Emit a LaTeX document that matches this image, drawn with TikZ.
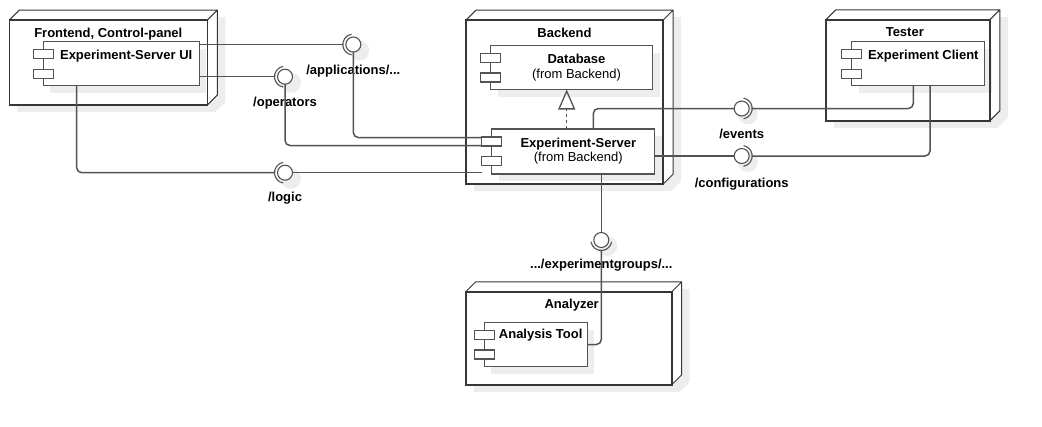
\documentclass[tikz,border=0pt]{standalone}
\usepackage{fontspec}
\setmainfont{Liberation Sans}
\usetikzlibrary{positioning, arrows.meta}

\pgfdeclarelayer{bg}
\pgfdeclarelayer{shade}
\pgfsetlayers{bg,shade,main}

\definecolor{linegray}{HTML}{535353}
\definecolor{framegray}{HTML}{363636}
\definecolor{shadowgray}{HTML}{EDEDED}

\tikzset{
    every node/.style={font=\fontsize{13}{14.5}\selectfont},
    devnode/.style={draw=framegray, line width=1.6pt, inner sep=0pt, outer sep=0pt},
    devedge/.style={draw=framegray, line width=1pt},
    comp/.style={draw=linegray, line width=1.2pt, fill=white, inner sep=0pt, outer sep=0pt},
    port/.style={draw=linegray, line width=1.1pt, fill=white, minimum width=20pt, minimum height=9pt, inner sep=0pt, outer sep=0pt},
    ntitle/.style={font=\fontsize{13}{14.5}\selectfont\bfseries, inner sep=0pt, anchor=north},
    ctitle/.style={font=\fontsize{13}{14.5}\selectfont\bfseries, align=center, inner sep=0pt, anchor=north},
    iface/.style={circle, draw=linegray, line width=1.1pt, fill=white, minimum size=15pt, inner sep=0pt, outer sep=0pt},
    iflabel/.style={font=\fontsize{13}{14.5}\selectfont\bfseries, inner sep=0pt},
    conn/.style={draw=linegray, line width=1.5pt, rounded corners=5pt},
    socket/.style={draw=linegray, line width=1.1pt},
    realize/.style={draw=linegray, line width=1.3pt, dash pattern=on 3pt off 3pt, -{Triangle[open, length=20pt, width=17pt]}}
}

\begin{document}
\begin{tikzpicture}[x=1pt, y=-1pt]
    \useasboundingbox (0,0) rectangle (1042,426);

    % deployment nodes
    \node[devnode, minimum width=198pt, minimum height=85pt] (front) at (108.3,62.5) {};
    \node[devnode, minimum width=197pt, minimum height=164pt] (back) at (564.5,102.2) {};
    \node[devnode, minimum width=164pt, minimum height=101pt] (tester) at (907.8,70.3) {};
    \node[devnode, minimum width=206pt, minimum height=93pt] (analyzer) at (568.7,338.3) {};

    \foreach \n in {front,back,tester,analyzer}
        \draw[devedge] (\n.north west) -- ++(10,-10) -| ([shift={(10,-10)}]\n.south east) -- (\n.south east)
            (\n.north east) -- ++(10,-10);

    \node[ntitle] (front-title) at ([shift={(0,7.5)}]front.north) {Frontend, Control-panel};
    \node[ntitle] (back-title) at ([shift={(0,7.5)}]back.north) {Backend};
    \node[ntitle] (tester-title) at ([shift={(-3,7.5)}]tester.north) {Tester};
    \node[ntitle] (analyzer-title) at ([shift={(3,7)}]analyzer.north) {Analyzer};

    % components
    \node[comp, minimum width=156pt, minimum height=44pt] (ui) at (121.2,63.8) {};
    \node[comp, minimum width=162pt, minimum height=44pt] (db) at (571.5,67.5) {};
    \node[comp, minimum width=163pt, minimum height=45pt] (srv) at (573.3,151.5) {};
    \node[comp, minimum width=133pt, minimum height=44pt] (client) at (918.3,63.8) {};
    \node[comp, minimum width=103pt, minimum height=44pt] (tool) at (535.7,344.5) {};

    \foreach \c in {ui,db,srv,client,tool} {
        \node[port] (\c-p1) at ([shift={(0,12.5)}]\c.north west) {};
        \node[port] (\c-p2) at ([shift={(0,32)}]\c.north west) {};
    }

    \node[ctitle] (ui-title) at ([shift={(5,8.5)}]ui.north) {Experiment-Server UI};
    \node[ctitle] (db-title) at ([shift={(5,8.5)}]db.north) {Database\\{\mdseries (from Backend)}};
    \node[ctitle] (srv-title) at ([shift={(5,8.5)}]srv.north) {Experiment-Server\\{\mdseries (from Backend)}};
    \node[ctitle] (client-title) at ([shift={(5,8.5)}]client.north) {Experiment Client};
    \node[ctitle] (tool-title) at ([shift={(5,6.5)}]tool.north) {Analysis Tool};

    % interfaces
    \node[iface] (apps) at (353.3,44.5) {};
    \node[iface] (ops) at (285,76.7) {};
    \node[iface] (logic) at (285,172.7) {};
    \node[iface] (events) at (741.7,108.5) {};
    \node[iface] (configs) at (741.7,156) {};
    \node[iface] (groups) at (601.3,240) {};

    \node[iflabel, below=13pt of apps] (apps-lbl) {/applications/...};
    \node[iflabel, below=13pt of ops] (ops-lbl) {/operators};
    \node[iflabel, below=12pt of logic] (logic-lbl) {/logic};
    \node[iflabel, below=13pt of events] (events-lbl) {/events};
    \node[iflabel, below=14pt of configs] (configs-lbl) {/configurations};
    \node[iflabel, below=11pt of groups] (groups-lbl) {.../experimentgroups/...};

    \foreach \i in {apps,ops,logic}
        \draw[socket] ([shift={(100:10.5pt)}]\i.center) arc[start angle=100, end angle=260, radius=10.5pt];
    \foreach \i in {events,configs}
        \draw[socket] ([shift={(-80:10.5pt)}]\i.center) arc[start angle=-80, end angle=80, radius=10.5pt];
    \draw[socket] ([shift={(190:10.5pt)}]groups.center) arc[start angle=190, end angle=350, radius=10.5pt];

    \coordinate (apps-s) at ([shift={(-10.5,0)}]apps.center);
    \coordinate (ops-s) at ([shift={(-10.5,0)}]ops.center);
    \coordinate (logic-s) at ([shift={(-10.5,0)}]logic.center);
    \coordinate (events-s) at ([shift={(10.5,0)}]events.center);
    \coordinate (configs-s) at ([shift={(10.5,0)}]configs.center);
    \coordinate (groups-s) at ([shift={(0,10.5)}]groups.center);

    % connectors
    \draw[conn] (ui.east |- apps) -- (apps-s);
    \draw[conn] (ui.east |- ops) -- (ops-s);
    \draw[conn] ([xshift=-44.5pt]ui.south) |- (logic-s);
    \draw[conn] (apps.south) |- ([yshift=-0.5pt]srv-p1.north west);
    \draw[conn] (ops.south) |- ([yshift=0.5pt]srv-p1.south west);
    \draw[conn] (logic.east) -- (logic.east -| srv-p2.west);
    \draw[conn] ([xshift=20pt]srv.north) |- (events.west);
    \draw[conn] (srv.east |- configs) -- (configs.west);
    \draw[conn] ([xshift=-5pt]client.south) |- (events-s);
    \draw[conn] ([xshift=11.7pt]client.south) |- (configs-s);
    \draw[conn] (groups.north |- srv.south) -- (groups.north);
    \draw[conn] (tool.east) -| (groups-s);
    \draw[realize] ([xshift=-6.6pt]srv.north) -- ([xshift=-6.6pt]srv.north |- db.south);

    % shadows
    \begin{pgfonlayer}{bg}
        \foreach \n in {front,back,tester,analyzer} {
            \fill[shadowgray] ([shift={(8,7)}]\n.north west) -- ++(10,-10) -| ([shift={(18,-3)}]\n.south east)
                -- ([shift={(8,7)}]\n.south east) -| ([shift={(8,7)}]\n.north west) -- cycle;
            \fill[white] (\n.north west) -- ++(10,-10) -| ([shift={(10,-10)}]\n.south east)
                -- (\n.south east) -| (\n.north west) -- cycle;
        }
    \end{pgfonlayer}
    \begin{pgfonlayer}{shade}
        \foreach \c in {ui,db,srv,client,tool}
            \fill[shadowgray] ([shift={(7,7)}]\c.north west) rectangle ([shift={(7,7)}]\c.south east);
        \foreach \i in {apps,ops,logic,events,configs,groups}
            \fill[shadowgray] ([shift={(6,6)}]\i.center) circle[radius=10pt];
    \end{pgfonlayer}
\end{tikzpicture}
\end{document}
